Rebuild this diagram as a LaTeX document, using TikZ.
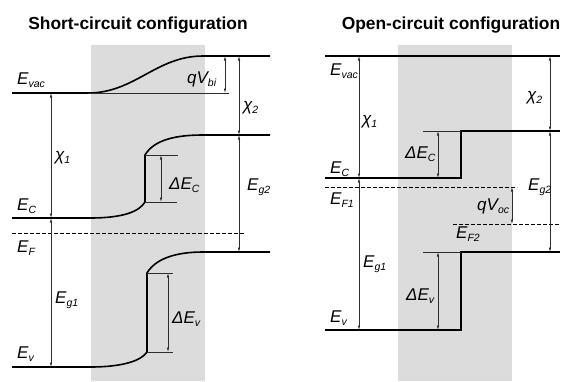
\documentclass[tikz,border=0pt]{standalone}
\usepackage{fontspec}
\setmainfont{Liberation Sans}
\usetikzlibrary{arrows.meta}
\definecolor{BandGray}{RGB}{220,220,220}
\definecolor{DimGray}{RGB}{45,45,45}
\newcommand{\lsub}[1]{\raisebox{-3pt}{\fontsize{10.5}{10}\selectfont #1}}

\begin{document}
\begin{tikzpicture}[x=1pt, y=-1pt,
    every node/.style={font=\fontsize{17}{19}\selectfont\itshape, inner sep=0pt},
    lbl/.style={anchor=base west},
    title/.style={anchor=base, font=\fontsize{17.4}{20}\selectfont\bfseries},
    band/.style={black, line width=1.6pt},
    dim/.style={DimGray, line width=0.6pt,
                {Latex[length=4.5pt,width=2.4pt]}-{Latex[length=4.5pt,width=2.4pt]}},
    refline/.style={DimGray, line width=0.6pt},
    fermi/.style={black, line width=0.8pt, dash pattern=on 3.5pt off 2.5pt}
]
\useasboundingbox (0,0) rectangle (561,381);
\fill[BandGray] (91,45) rectangle (205,381);
\fill[BandGray] (398,45) rectangle (512,381);

% titles
\node[title] (tshort) at (138,29) {Short-circuit configuration};
\node[title] (topen) at (451,29) {Open-circuit configuration};

% ---- short circuit: band edges
\draw[band] (12,93) -- (88,93) .. controls (135,93) and (156,56) .. (203,56) -- (270,56);
\draw[band] (12,218) -- (90,218) .. controls (122,218) and (139,212) .. (145,202)
            -- (145,155) .. controls (154,140) and (175,135) .. (203,135) -- (270,135);
\draw[band] (12,367) -- (90,367) .. controls (122,367) and (141,361) .. (147,352)
            -- (147,273) .. controls (156,258) and (177,252) .. (203,252) -- (270,252);
\draw[fermi] (12,233) -- (245,233);

% reference lines
\draw[refline] (88,93) -- (229,93);
\draw[refline] (145,155) -- (178,155);
\draw[refline] (145,202) -- (177,202);
\draw[refline] (147,273) -- (173,273);
\draw[refline] (147,352) -- (173,352);

% level points
\coordinate (vacL) at (51,93);
\coordinate (cL) at (51,218);
\coordinate (vL) at (51,367);
\coordinate (vacR) at (239,56);
\coordinate (cR) at (239,135);
\coordinate (vR) at (239,252);
\coordinate (biTop) at (225,56);
\coordinate (biBot) at (225,93);
\coordinate (dcTop) at (161,155);
\coordinate (dcBot) at (161,202);
\coordinate (dvTop) at (168,273);
\coordinate (dvBot) at (168,352);

\draw[dim] (vacL) -- (cL);
\draw[dim] (cL) -- (vL);
\draw[dim] (vacR) -- (cR);
\draw[dim] (cR) -- (vR);
\draw[dim] (biTop) -- (biBot);
\draw[dim] (dcTop) -- (dcBot);
\draw[dim] (dvTop) -- (dvBot);

% labels
\node[lbl] (evac) at (17,84) {E\lsub{vac}};
\node[lbl] (ec) at (17,210) {E\lsub{C}};
\node[lbl] (ef) at (17,252) {E\lsub{F}};
\node[lbl] (ev) at (17,358) {E\lsub{v}};
\node[lbl] (chia) at (55,160) {χ\lsub{1}};
\node[lbl] (ega) at (55,303) {E\lsub{g1}};
\node[lbl] (qvbi) at (187,83) {qV\lsub{bi}};
\node[lbl] (chib) at (243,110) {χ\lsub{2}};
\node[lbl] (egb) at (247,190) {E\lsub{g2}};
\node[lbl] (dec) at (169,189) {ΔE\lsub{C}};
\node[lbl] (dev) at (172,323) {ΔE\lsub{v}};

% ---- open circuit: band edges
\draw[band] (325,56) -- (560,56);
\draw[band] (325,178) -- (461,178) -- (461,131) -- (560,131);
\draw[band] (325,330) -- (461,330) -- (461,252) -- (560,252);
\draw[fermi] (325,187) -- (517,187);
\draw[fermi] (453,224) -- (561,224);

% reference lines
\draw[refline] (423,131) -- (461,131);
\draw[refline] (423,252) -- (461,252);

% level points
\coordinate (ovacL) at (359,56);
\coordinate (ocL) at (359,178);
\coordinate (ovL) at (359,330);
\coordinate (ovacR) at (550,56);
\coordinate (ocR) at (550,131);
\coordinate (ovR) at (550,252);
\coordinate (ocTop) at (438,131);
\coordinate (ocBot) at (438,178);
\coordinate (ovTop) at (438,252);
\coordinate (ovBot) at (438,330);
\coordinate (ocvTop) at (512,187);
\coordinate (ocvBot) at (512,224);

\draw[dim] (ovacL) -- (ocL);
\draw[dim] (ocL) -- (ovL);
\draw[dim] (ovacR) -- (ocR);
\draw[dim] (ocR) -- (ovR);
\draw[dim] (ocTop) -- (ocBot);
\draw[dim] (ovTop) -- (ovBot);
\draw[dim] (ocvTop) -- (ocvBot);

% labels
\node[lbl] (oevac) at (330,75) {E\lsub{vac}};
\node[lbl] (ochia) at (362,124) {χ\lsub{1}};
\node[lbl] (oec) at (330,173) {E\lsub{C}};
\node[lbl] (odec) at (405,158) {ΔE\lsub{C}};
\node[lbl] (ochib) at (527,100) {χ\lsub{2}};
\node[lbl] (oefa) at (330,204) {E\lsub{F1}};
\node[lbl] (oega) at (363,267) {E\lsub{g1}};
\node[lbl] (odev) at (406,300) {ΔE\lsub{v}};
\node[lbl] (oev) at (330,322) {E\lsub{v}};
\node[lbl] (oqv) at (477,210) {qV\lsub{oc}};
\node[lbl] (oefb) at (456,238) {E\lsub{F2}};
\node[lbl] (oegb) at (528,190) {E\lsub{g2}};
\end{tikzpicture}
\end{document}
